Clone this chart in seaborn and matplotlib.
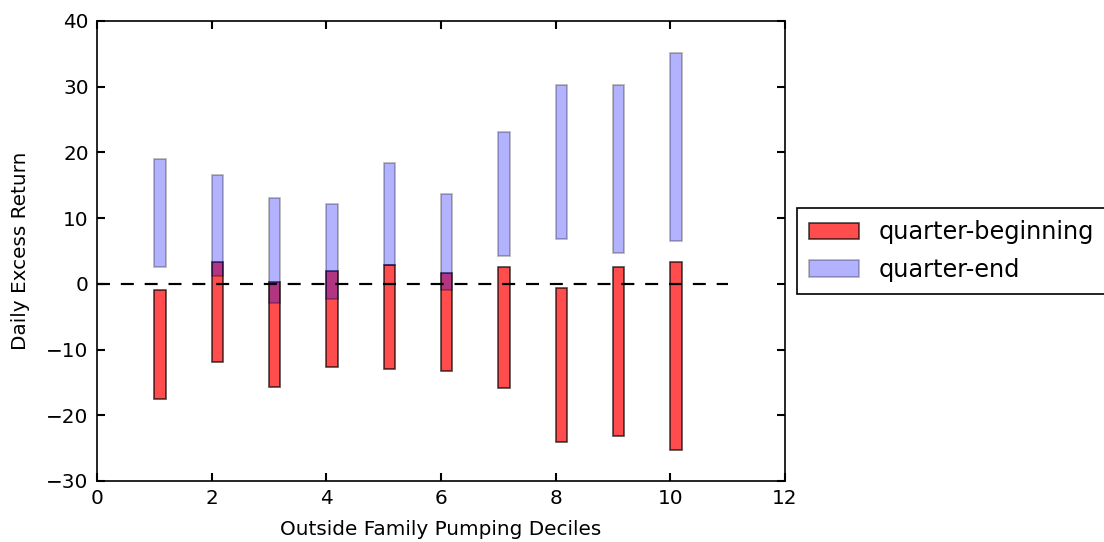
import matplotlib
matplotlib.use("Agg")
import matplotlib.pyplot as plt
import seaborn as sns
import numpy as np

deciles = [1, 2, 3, 4, 5, 6, 7, 8, 9, 10]
beg_low = [-17.5, -11.9, -15.7, -12.7, -12.9, -13.2, -15.9, -24.1, -23.2, -25.3]
beg_high = [-1.0, 3.4, 0.25, 1.9, 2.8, 1.6, 2.5, -0.66, 2.5, 3.4]
end_low = [2.5, 1.2, -2.9, -2.3, 2.8, -1.0, 4.3, 6.8, 4.7, 6.5]
end_high = [19.0, 16.6, 13.1, 12.2, 18.4, 13.7, 23.1, 30.3, 30.3, 35.2]

sns.set_theme(style="ticks", rc={
    "axes.edgecolor": "black", "axes.linewidth": 1.0,
    "xtick.direction": "in", "ytick.direction": "in",
    "xtick.top": True, "ytick.right": True,
    "xtick.major.size": 5, "ytick.major.size": 5,
    "xtick.color": "black", "ytick.color": "black",
    "axes.labelcolor": "black", "text.color": "black",
})
plt.rcParams["font.family"] = ["DejaVu Sans"]

fig = plt.figure(figsize=(1104 / 120, 542 / 120), dpi=120)
ax = fig.add_axes([97 / 1104, 1 - 481 / 542, (785 - 97) / 1104, (481 - 21) / 542])

x = np.array(deciles, dtype=float)
ax.bar(x, np.array(beg_high) - np.array(beg_low), bottom=beg_low, width=0.2,
       align="edge", color="red", alpha=0.7, edgecolor="black", linewidth=1,
       label="quarter-beginning")
ax.bar(x, np.array(end_high) - np.array(end_low), bottom=end_low, width=0.2,
       align="edge", color="blue", alpha=0.3, edgecolor="black", linewidth=1,
       label="quarter-end")
ax.hlines(0, 0, 11, colors="black", linestyles=(0, (6, 5)), linewidth=1.3)

ax.set_xlim(0, 12)
ax.set_ylim(-30, 40)
ax.set_xticks(range(0, 13, 2))
ax.set_yticks(range(-30, 41, 10))
ax.tick_params(labelsize=12, pad=5)
ax.set_xlabel("Outside Family Pumping Deciles", fontsize=12, labelpad=7)
ax.set_ylabel("Daily Excess Return", fontsize=12, labelpad=10)

leg = ax.legend(loc="center left", bbox_to_anchor=(1.018, 0.5), fontsize=14.4,
                frameon=True, fancybox=False, edgecolor="black", framealpha=1,
                handlelength=2.08, handletextpad=0.8, borderpad=0.5,
                labelspacing=0.55, borderaxespad=0)
leg.get_frame().set_linewidth(1.0)

fig.savefig("out.png", dpi=120)
